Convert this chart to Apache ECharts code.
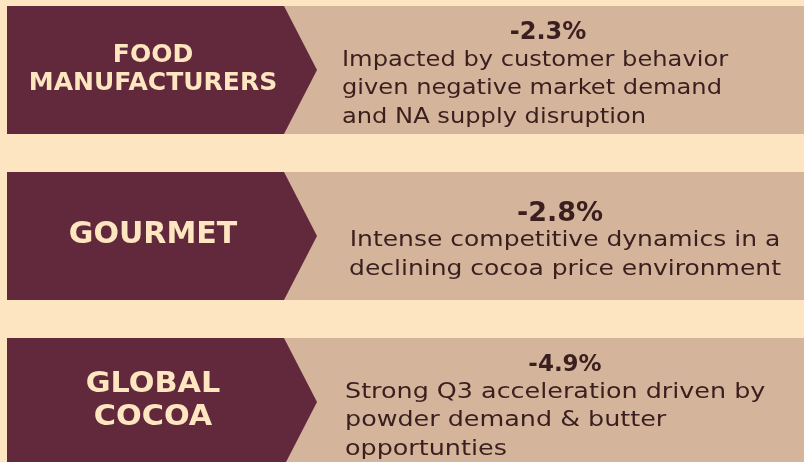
<!DOCTYPE html>
<html>
<head>
<meta charset="utf-8">
<script src="https://cdn.jsdelivr.net/npm/echarts@6/dist/echarts.min.js"></script>
<style>
  html, body { margin: 0; padding: 0; background: #fde5c2; }
  #chart { width: 804px; height: 462px; }
</style>
</head>
<body>
<div id="chart"></div>
<script>
// segments, top to bottom
const segments = ['FOOD\nMANUFACTURERS', 'GOURMET', 'GLOBAL\nCOCOA']
const rows = [0, 1, 2]
const changes = [-2.3, -2.8, -4.9]
const notes = [
  ['Impacted by customer behavior', 'given negative market demand', 'and NA supply disruption'],
  ['Intense competitive dynamics in a', 'declining cocoa price environment'],
  ['Strong Q3 acceleration driven by', 'powder demand & butter', 'opportunties']
]

// per-row look (font sizes / alignment of the text blocks)
const labelSize = [25, 30, 28]
const labelScale = [1, 1, 1.08]
const labelLine = [28, 34, 33]
const pctSize = [24, 27, 23]
const pctX = [548, 560, 565]
const noteAlign = ['left', 'center', 'left']
const noteX = [342, 565, 345]
const noteScale = [1.15, 1.19, 1.21]

const maroon = '#62293c'
const tan = '#d4b59c'
const cream = '#fde6c0'
const ink = '#3b1f1f'

const chart = echarts.init(document.getElementById('chart'))

function renderRow (params, api) {
  const i = api.value(1)
  const cy = api.coord([0, i])[1]
  const h = 64
  const nLines = notes[i].length
  const noteY = cy + 19
  const pctY = noteY - nLines * 28.5 / 2 - 13
  return {
    type: 'group',
    children: [
      {
        type: 'rect',
        shape: {x: 283, y: cy - h, width: 530, height: h * 2},
        style: {fill: tan}
      },
      {
        type: 'polygon',
        shape: {points: [[7, cy - h], [284, cy - h], [317, cy], [284, cy + h], [7, cy + h]]},
        style: {fill: maroon}
      },
      {
        type: 'text',
        x: 153,
        y: cy - 1,
        scaleX: labelScale[i],
        style: {
          text: segments[i],
          fill: cream,
          font: 'bold ' + labelSize[i] + 'px "DejaVu Sans"',
          lineHeight: labelLine[i],
          align: 'center',
          verticalAlign: 'middle'
        }
      },
      {
        type: 'text',
        x: pctX[i],
        y: pctY,
        style: {
          text: changes[i].toFixed(1) + '%',
          fill: ink,
          font: 'bold ' + pctSize[i] + 'px "DejaVu Sans"',
          align: 'center',
          verticalAlign: 'middle'
        }
      },
      {
        type: 'text',
        x: noteX[i],
        y: noteY,
        scaleX: noteScale[i],
        style: {
          text: notes[i].join('\n'),
          fill: ink,
          font: '21px "DejaVu Sans"',
          lineHeight: 28.5,
          align: noteAlign[i],
          verticalAlign: 'middle'
        }
      }
    ]
  }
}

chart.setOption({
  backgroundColor: '#fde5c2',
  animation: false,
  grid: {left: 0, right: 0, top: 0, bottom: 0},
  xAxis: {type: 'value', min: 0, max: 804, show: false},
  // row index axis: 166px per row, first row centred at y=70
  yAxis: {type: 'value', inverse: true, min: -0.4217, max: 2.3614, show: false},
  series: [{
    type: 'custom',
    renderItem: renderRow,
    clip: false,
    data: rows.map((r) => [changes[r], r])
  }]
})
</script>
</body>
</html>
